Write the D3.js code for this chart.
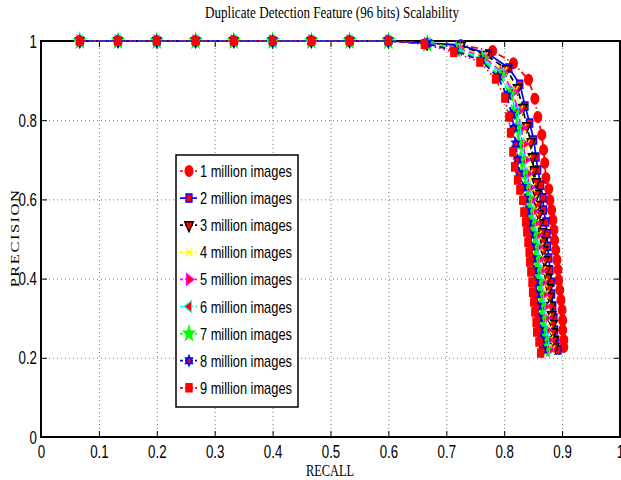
<!DOCTYPE html>
<html><head><meta charset="utf-8">
<script src="https://cdn.jsdelivr.net/npm/d3@7"></script>
<style>body{margin:0;background:#fff}svg{display:block}</style>
</head><body>
<svg id="c" width="621" height="480"></svg>
<script>
// ---- data ----
const xTickValues = [0,0.1,0.2,0.3,0.4,0.5,0.6,0.7,0.8,0.9,1];
const xTickLabels = ["0","0.1","0.2","0.3","0.4","0.5","0.6","0.7","0.8","0.9","1"];
const yTickValues = [0,0.2,0.4,0.6,0.8,1];
const yTickLabels = ["0","0.2","0.4","0.6","0.8","1"];
const seriesNames = ["1 million images","2 million images","3 million images","4 million images","5 million images","6 million images","7 million images","8 million images","9 million images"];
const flatRecall = [0.067,0.133,0.2,0.267,0.333,0.4,0.467,0.533,0.6];
const flatPrecision = [1,1,1,1,1,1,1,1,1];
const s1Recall = [0.667,0.725,0.780,0.816,0.842,0.853,0.858,0.865,0.868,0.870,0.872,0.877,0.879,0.882,0.884,0.886,0.887,0.889,0.891,0.893,0.894,0.896,0.898,0.900,0.901,0.901,0.903,0.903];
const s1Precision = [0.993,0.990,0.975,0.944,0.902,0.854,0.808,0.763,0.725,0.692,0.654,0.626,0.598,0.573,0.548,0.523,0.497,0.472,0.447,0.422,0.396,0.371,0.346,0.321,0.295,0.270,0.245,0.227];
const s2Recall = [0.667,0.723,0.773,0.808,0.827,0.836,0.844,0.851,0.855,0.858,0.863,0.867,0.868,0.872,0.874,0.875,0.877,0.879,0.881,0.882,0.884,0.886,0.887,0.889,0.893];
const s2Precision = [0.995,0.990,0.967,0.932,0.891,0.836,0.793,0.750,0.707,0.674,0.636,0.604,0.573,0.543,0.513,0.482,0.452,0.422,0.391,0.361,0.331,0.301,0.270,0.245,0.220];
const s3Recall = [0.667,0.725,0.768,0.804,0.823,0.832,0.839,0.846,0.849,0.851,0.855,0.856,0.858,0.860,0.861,0.865,0.867,0.868,0.870,0.873,0.875,0.877,0.879,0.881,0.882,0.884,0.884,0.886,0.887];
const s3Precision = [0.994,0.987,0.965,0.929,0.881,0.831,0.785,0.745,0.707,0.674,0.644,0.614,0.586,0.563,0.540,0.518,0.495,0.472,0.447,0.424,0.402,0.376,0.354,0.331,0.308,0.285,0.265,0.245,0.227];
const s4Recall = [0.667,0.723,0.766,0.800,0.819,0.827,0.833,0.839,0.841,0.844,0.848,0.851,0.853,0.855,0.859,0.862,0.864,0.866,0.869,0.871,0.874,0.875,0.877,0.879,0.882];
const s4Precision = [0.993,0.984,0.961,0.924,0.876,0.826,0.78,0.74,0.70,0.665,0.63,0.60,0.57,0.54,0.51,0.48,0.45,0.42,0.39,0.36,0.33,0.30,0.27,0.245,0.22];
const s5Recall = [0.667,0.721,0.765,0.797,0.815,0.824,0.829,0.834,0.836,0.840,0.844,0.847,0.850,0.852,0.856,0.858,0.860,0.863,0.865,0.867,0.870,0.871,0.873,0.876,0.878];
const s5Precision = [0.993,0.982,0.959,0.920,0.871,0.823,0.78,0.74,0.70,0.665,0.63,0.60,0.57,0.54,0.51,0.48,0.45,0.42,0.39,0.36,0.33,0.30,0.27,0.245,0.22];
const s6Recall = [0.667,0.719,0.763,0.795,0.812,0.820,0.824,0.829,0.832,0.835,0.840,0.843,0.846,0.849,0.852,0.854,0.856,0.859,0.861,0.863,0.866,0.867,0.869,0.872,0.874];
const s6Precision = [0.993,0.980,0.956,0.917,0.869,0.820,0.78,0.74,0.70,0.665,0.63,0.60,0.57,0.54,0.51,0.48,0.45,0.42,0.39,0.36,0.33,0.30,0.27,0.245,0.22];
const s7Recall = [0.667,0.717,0.762,0.792,0.809,0.816,0.821,0.825,0.828,0.831,0.836,0.840,0.843,0.845,0.849,0.851,0.853,0.855,0.858,0.860,0.862,0.864,0.866,0.868,0.871];
const s7Precision = [0.993,0.977,0.953,0.913,0.865,0.816,0.78,0.74,0.70,0.665,0.63,0.60,0.57,0.54,0.51,0.48,0.45,0.42,0.39,0.36,0.33,0.30,0.27,0.245,0.22];
const s8Recall = [0.667,0.715,0.760,0.789,0.805,0.813,0.816,0.820,0.823,0.826,0.832,0.836,0.839,0.842,0.845,0.847,0.849,0.851,0.854,0.856,0.858,0.860,0.862,0.864,0.867];
const s8Precision = [0.993,0.975,0.951,0.909,0.861,0.813,0.78,0.74,0.70,0.665,0.63,0.60,0.57,0.54,0.51,0.48,0.45,0.42,0.39,0.36,0.33,0.30,0.27,0.245,0.22];
const s9Recall = [0.662,0.713,0.758,0.785,0.801,0.808,0.811,0.815,0.818,0.823,0.827,0.832,0.834,0.837,0.839,0.841,0.843,0.844,0.846,0.848,0.849,0.851,0.853,0.855,0.856,0.860,0.863];
const s9Precision = [0.992,0.972,0.947,0.904,0.856,0.808,0.768,0.720,0.682,0.649,0.624,0.598,0.568,0.543,0.518,0.492,0.467,0.442,0.417,0.391,0.366,0.341,0.316,0.290,0.265,0.240,0.212];

const recallTails = [s1Recall,s2Recall,s3Recall,s4Recall,s5Recall,s6Recall,s7Recall,s8Recall,s9Recall];
const precisionTails = [s1Precision,s2Precision,s3Precision,s4Precision,s5Precision,s6Precision,s7Precision,s8Precision,s9Precision];

// ---- styles ----
const hexagram = {draw(ctx, size){
  const r = Math.sqrt(size) * 0.75;
  for (let t = 0; t < 2; t++) {
    for (let i = 0; i < 3; i++) {
      const a = t * Math.PI / 3 + i * 2 * Math.PI / 3 - Math.PI / 2;
      const px = r * Math.cos(a), py = r * Math.sin(a);
      if (i === 0) ctx.moveTo(px, py); else ctx.lineTo(px, py);
    }
    ctx.closePath();
  }
}};
const styles = [
  {color:"#ff0000", dash:"7,3,1.5,3", sym:d3.symbolCircle, size:85, rot:0, fill:"#ff0000", stroke:"#ff0000"},
  {color:"#0000ff", dash:null, sym:d3.symbolSquare, size:64, rot:0, fill:"#ff0000", stroke:"#0000ff"},
  {color:"#000000", dash:"6,4", sym:d3.symbolTriangle, size:58, rot:180, fill:"#ff0000", stroke:"#000000"},
  {color:"#ffff00", dash:"6,4", sym:d3.symbolX, size:48, rot:0, fill:"none", stroke:"#ffff00"},
  {color:"#ff00ff", dash:"6,4", sym:d3.symbolTriangle, size:58, rot:90, fill:"#ff0000", stroke:"#ff00ff"},
  {color:"#00ffff", dash:"6,4", sym:d3.symbolTriangle, size:58, rot:-90, fill:"#ff0000", stroke:"#00ffff"},
  {color:"#00ff00", dash:"6,4", sym:d3.symbolStar, size:66, rot:0, fill:"#00ff00", stroke:"#00ff00"},
  {color:"#0000ff", dash:"6,4", sym:hexagram, size:52, rot:0, fill:"#ff0000", stroke:"#0000ff"},
  {color:"#ff0000", dash:"1.5,3", sym:d3.symbolSquare, size:66, rot:0, fill:"#ff0000", stroke:"#ff0000"}
];

const svg = d3.select("#c");
const x = d3.scaleLinear().domain([0,1]).range([41,620]);
const y = d3.scaleLinear().domain([0,1]).range([437,41]);
const SQ = 0.76; // horizontal squeeze of the original figure
const sansFont = "'Liberation Sans', Arial, sans-serif";
const serifFont = "'Liberation Serif', 'Times New Roman', serif";

// grid
svg.append("g").attr("transform","translate(0,437)")
  .call(d3.axisBottom(x).tickValues(xTickValues.slice(1,-1)).tickSize(-396).tickFormat(""))
  .call(g=>g.select(".domain").remove())
  .call(g=>g.selectAll("line").attr("stroke","#777").attr("stroke-dasharray","1,3"));
svg.append("g").attr("transform","translate(41,0)")
  .call(d3.axisLeft(y).tickValues(yTickValues.slice(1,-1)).tickSize(-579).tickFormat(""))
  .call(g=>g.select(".domain").remove())
  .call(g=>g.selectAll("line").attr("stroke","#777").attr("stroke-dasharray","1,3"));

// axes with inward ticks
const xAxis = svg.append("g").attr("transform","translate(0,437)")
  .call(d3.axisBottom(x).tickValues(xTickValues).tickSize(-6).tickSizeOuter(0).tickPadding(8)
    .tickFormat((d,i)=>xTickLabels[i]));
const yAxis = svg.append("g").attr("transform","translate(41,0)")
  .call(d3.axisLeft(y).tickValues(yTickValues).tickSize(-6).tickSizeOuter(0).tickPadding(4)
    .tickFormat((d,i)=>yTickLabels[i]));
svg.append("g").attr("transform","translate(0,41)")
  .call(d3.axisTop(x).tickValues(xTickValues).tickSize(-6).tickSizeOuter(0).tickFormat(""));
svg.append("g").attr("transform","translate(620,0)")
  .call(d3.axisRight(y).tickValues(yTickValues).tickSize(-6).tickSizeOuter(0).tickFormat(""));
svg.selectAll(".domain").remove();
svg.selectAll(".tick line").filter(function(){return !this.getAttribute("stroke-dasharray");}).attr("stroke","#000");

xAxis.selectAll("text").attr("font-family",sansFont).attr("font-size",17.5).attr("fill","#000")
  .attr("y",0).attr("dy",0)
  .attr("transform","translate(0,21) scale("+SQ+",1)");
yAxis.selectAll("text").attr("font-family",sansFont).attr("font-size",17.5).attr("fill","#000")
  .attr("x",0).attr("dy",0)
  .attr("transform","translate(-4,6) scale("+SQ+",1)");

// frame
svg.append("rect").attr("x",41).attr("y",41).attr("width",579).attr("height",396)
  .attr("fill","none").attr("stroke","#000").attr("stroke-width",2);

// series
const line = d3.line().x(d=>x(d[0])).y(d=>y(d[1]));
const plot = svg.append("g");
recallTails.forEach((rs, k) => {
  const st = styles[k];
  const pts = flatRecall.map((r,i)=>[r, flatPrecision[i]]).concat(rs.map((r,i)=>[r, precisionTails[k][i]]));
  const g = plot.append("g");
  g.append("path").attr("d", line(pts)).attr("fill","none").attr("stroke",st.color)
    .attr("stroke-width",1.7).attr("stroke-dasharray",st.dash);
  const sym = d3.symbol().type(st.sym).size(st.size);
  g.selectAll("path.m").data(pts).join("path").attr("class","m")
    .attr("d", sym())
    .attr("transform", d=>`translate(${x(d[0])},${y(d[1])}) scale(${SQ},1) rotate(${st.rot})`)
    .attr("fill", st.fill).attr("stroke", st.stroke).attr("stroke-width",1.5);
});

// legend
const lg = svg.append("g");
lg.append("rect").attr("x",176).attr("y",155).attr("width",122).attr("height",252)
  .attr("fill","#fff").attr("stroke","#000").attr("stroke-width",1.5);
seriesNames.forEach((name,k)=>{
  const st = styles[k];
  const cy = 171 + k*27.1;
  lg.append("line").attr("x1",180).attr("x2",197).attr("y1",cy).attr("y2",cy)
    .attr("stroke",st.color).attr("stroke-width",1.7).attr("stroke-dasharray",st.dash ? "3,2" : null);
  lg.append("path").attr("d", d3.symbol().type(st.sym).size(st.size)())
    .attr("transform",`translate(189,${cy}) scale(${SQ},1) rotate(${st.rot})`)
    .attr("fill",st.fill).attr("stroke",st.stroke).attr("stroke-width",1.5);
  lg.append("text").text(name).attr("font-family",sansFont).attr("font-size",17).attr("fill","#000")
    .attr("transform",`translate(200,${cy+6}) scale(0.755,1)`);
});

// title and labels
svg.append("text").text("Duplicate Detection Feature (96 bits) Scalability")
  .attr("font-family",serifFont).attr("font-size",17).attr("text-anchor","middle")
  .attr("transform","translate(332,18) scale(0.77,1)");
svg.append("text").text("RECALL")
  .attr("font-family",serifFont).attr("font-size",16.5).attr("text-anchor","middle")
  .attr("transform","translate(330,476) scale(0.75,1)");
svg.append("text").text("PRECISION")
  .attr("font-family",serifFont).attr("font-size",16.5).attr("text-anchor","middle").attr("letter-spacing",1.5)
  .attr("transform","translate(19,238) scale(0.8,1) rotate(-90)");
</script>
</body></html>
